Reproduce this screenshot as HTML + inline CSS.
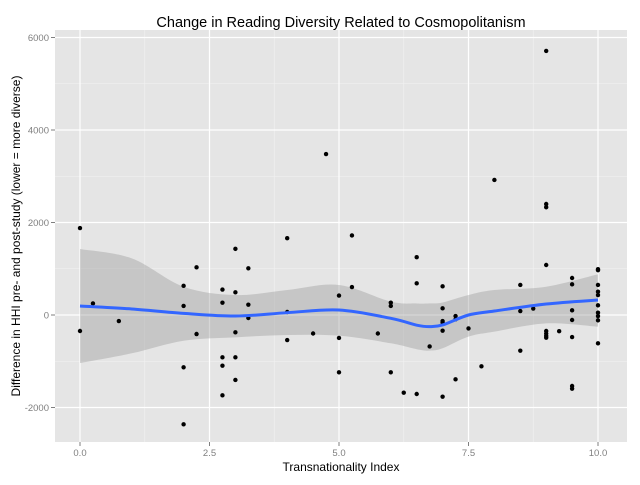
<!DOCTYPE html>
<html><head><meta charset="utf-8"><style>
body{margin:0;background:#fff;font-family:"Liberation Sans",sans-serif}
</style></head><body>
<svg id="chart" width="640" height="480" xmlns="http://www.w3.org/2000/svg">
<rect x="0" y="0" width="640" height="480" fill="#fff"/>
<text x="341" y="27" text-anchor="middle" font-size="14.5" fill="#000">Change in Reading Diversity Related to Cosmopolitanism</text>
<rect x="55" y="30" width="572" height="412" fill="#e5e5e5"/>
<g id="grid"></g>
<g id="band"></g>
<g id="pts"></g>
<g id="fit"></g>
<g id="axes"></g>
<text x="341" y="471" text-anchor="middle" font-size="12" fill="#000">Transnationality Index</text>
<text transform="translate(20,236) rotate(-90)" text-anchor="middle" font-size="12" fill="#000">Difference in HHI pre- and post-study (lower = more diverse)</text>
</svg>
<script>
const xVals=[0,0,0.25,0.75,2,2,2,2,2.25,2.25,2.75,2.75,2.75,2.75,2.75,3,3,3,3,3,3.25,3.25,3.25,4,4,4,4.5,4.75,5,5,5,5.25,5.25,5.75,6,6,6,6.25,6.5,6.5,6.5,6.75,7,7,7,7,7,7,7.25,7.25,7.25,7.5,7.75,8,8.5,8.5,8.5,8.75,9,9,9,9,9,9,9,9,9.25,9.5,9.5,9.5,9.5,9.5,9.5,9.5,10,10,10,10,10,10,10,10,10,10];
const yVals=[1880,-346,250,-130,630,197,-1131,-2364,1030,-411,550,267,-915,-1095,-1737,1430,490,-375,-915,-1405,1010,224,-65,1660,65,-541,-400,3480,420,-497,-1239,1720,605,-400,267,195,-1239,-1680,1250,685,-1708,-680,620,144,-130,-166,-339,-1766,-22,-94,-1391,-290,-1110,2920,650,86,-771,140,5710,2400,2330,1081,-346,-400,-450,-490,-350,800,663,101,-108,-476,-1535,-1593,990,970,649,504,432,209,50,-22,-115,-613];
const fitX=[0,1,2,3,4,5,6,6.5,6.75,7,7.5,8,9,10];
const fitY=[195,130,36,-22,50,108,-72,-220,-252,-216,0,86,238,324];
const fitHi=[1427,1225,612,432,540,649,288,250,252,270,432,540,612,880];
const fitLo=[-1038,-828,-556,-483,-432,-447,-612,-740,-771,-720,-468,-360,-180,-252];
const xTicks=[0,2.5,5,7.5,10];
const xTickLabels=["0.0","2.5","5.0","7.5","10.0"];
const yTicks=[-2000,0,2000,4000,6000];
const yTickLabels=["-2000","0","2000","4000","6000"];
const xMinor=[1.25,3.75,6.25,8.75];
const yMinor=[-3000,-1000,1000,3000,5000];
const NS="http://www.w3.org/2000/svg";
const X=v=>80+v*51.8, Y=v=>315-v*0.04625;
function mk(t,a,p){const e=document.createElementNS(NS,t);for(const k in a)e.setAttribute(k,a[k]);p.appendChild(e);return e;}
const grid=document.getElementById('grid');
xMinor.forEach(v=>{const l=mk('line',{x1:X(v),x2:X(v),y1:30,y2:442,stroke:'#f2f2f2','stroke-width':0.6},grid);});
yMinor.forEach(v=>{if(Y(v)<30||Y(v)>442)return;const l=mk('line',{x1:55,x2:627,y1:Y(v),y2:Y(v),stroke:'#f2f2f2','stroke-width':0.6},grid);});
const axes=document.getElementById('axes');
xTicks.forEach((v,i)=>{const l=mk('line',{x1:X(v),x2:X(v),y1:30,y2:442,stroke:'#fff','stroke-width':1.2},grid);
mk('line',{x1:X(v),x2:X(v),y1:442,y2:446,stroke:'#7f7f7f'},axes);
const t=mk('text',{x:X(v),y:456,'text-anchor':'middle','font-size':9.5,fill:'#7f7f7f'},axes);t.textContent=xTickLabels[i];});
yTicks.forEach((v,i)=>{const l=mk('line',{x1:55,x2:627,y1:Y(v),y2:Y(v),stroke:'#fff','stroke-width':1.2},grid);
mk('line',{x1:51,x2:55,y1:Y(v),y2:Y(v),stroke:'#7f7f7f'},axes);
const t=mk('text',{x:49,y:Y(v)+3.5,'text-anchor':'end','font-size':9.5,fill:'#7f7f7f'},axes);t.textContent=yTickLabels[i];});
function smooth(xs,ys){let d='';const n=xs.length;const P=xs.map((x,i)=>[X(x),Y(ys[i])]);
for(let i=0;i<n;i++){if(i===0){d+='M'+P[0][0]+','+P[0][1];continue;}
const p0=P[Math.max(i-2,0)],p1=P[i-1],p2=P[i],p3=P[Math.min(i+1,n-1)];
const c1=[p1[0]+(p2[0]-p0[0])/6,p1[1]+(p2[1]-p0[1])/6],c2=[p2[0]-(p3[0]-p1[0])/6,p2[1]-(p3[1]-p1[1])/6];
d+=`C${c1[0]},${c1[1]} ${c2[0]},${c2[1]} ${p2[0]},${p2[1]}`;}return d;}
function smoothRev(xs,ys){return smooth(xs.slice().reverse(),ys.slice().reverse()).replace(/^M/,'L');}
const band=mk('path',{d:smooth(fitX,fitHi)+smoothRev(fitX,fitLo)+'Z',fill:'#999','fill-opacity':0.4},document.getElementById('band'));


const pts=document.getElementById('pts');
xVals.forEach((v,i)=>{const c=mk('circle',{cx:X(v),cy:Y(yVals[i]),r:2.2,fill:'#000'},pts);

});
const fl=mk('path',{d:smooth(fitX,fitY),fill:'none',stroke:'#3366ff','stroke-width':3},document.getElementById('fit'));


</script>
</body></html>
